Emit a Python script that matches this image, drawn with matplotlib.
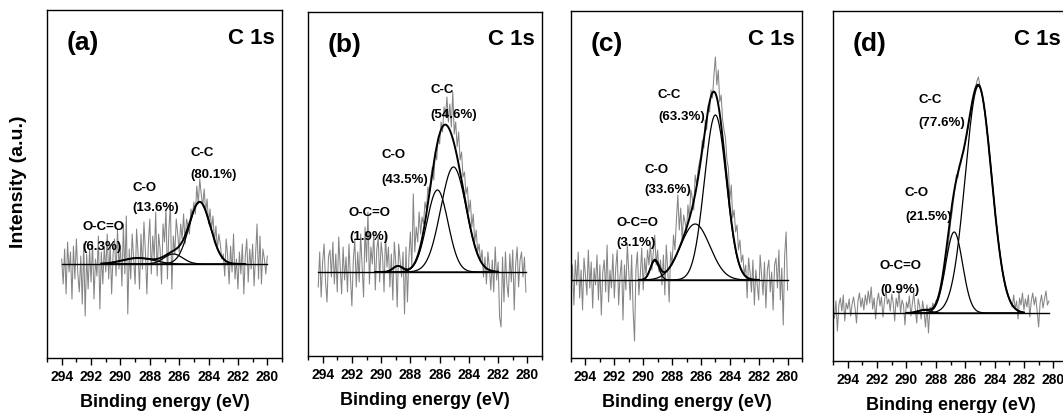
import numpy as np
import matplotlib
matplotlib.use("Agg")
import matplotlib.pyplot as plt
from matplotlib.ticker import MultipleLocator

plt.rcParams['font.family'] = ['Liberation Sans', 'DejaVu Sans']

# ---------------- data ----------------
panel_letters = ['(a)', '(b)', '(c)', '(d)']
species = ['C-C', 'C-O', 'O-C=O']

pct_a = [80.1, 13.6, 6.3]
pct_b = [54.6, 43.5, 1.9]
pct_c = [63.3, 33.6, 3.1]
pct_d = [77.6, 21.5, 0.9]

# fitted peak parameters: centre (eV), height (a.u.), FWHM (eV)  -> order C-C, C-O, O-C=O
centers_a = [284.6, 286.4, 288.8]
heights_a = [62, 10, 6]
fwhm_a = [1.7, 1.5, 2.5]

centers_b = [285.05, 286.15, 288.85]
heights_b = [105, 82, 6]
fwhm_b = [2.05, 1.7, 0.8]

centers_c = [285.0, 286.4, 289.2]
heights_c = [165, 56, 19]
fwhm_c = [1.78, 2.4, 0.7]

centers_d = [285.1, 286.75, 288.8]
heights_d = [227, 81, 3]
fwhm_d = [2.1, 1.35, 1.0]

# raw spectra (background subtracted), 0.1 eV step, high BE -> low BE
start_a, end_a = 294.0, 280.0
raw_a = [5, -20, 15, -30, 22, -8, 12, -35, 18, -15,
         25, -10, -28, 8, -40, 20, -52, 10, -25, 15,
         -18, 22, -35, 5, -12, 28, -45, 12, -20, 18,
         -8, 30, -15, 20, -30, 10, 25, -12, 35, -5,
         18, -22, 40, -10, 48, -50, 15, -15, 30, 5,
         -20, 35, 10, -25, 30, -5, 42, 12, -30, 20,
         45, -10, 28, 5, 52, -12, 30, 15, -20, 40,
         22, 55, -15, 35, 60, -25, 28, 10, 45, 30,
         12, 40, 25, 50, 20, 45, 38, 30, 55, 48,
         62, 50, 78, 60, 85, 70, 58, 75, 52, 65,
         40, 55, 35, 48, 22, 38, 15, 30, 20, 5,
         10, -12, 25, 8, -20, 18, -8, 30, -15, 5,
         -25, 12, -10, 20, -30, 8, 25, -18, 15, -5,
         20, -22, 10, 40, -15, 28, -20, 15, 5, -10,
         8]

start_b, end_b = 294.3, 280.1
raw_b = [-15, 20, -25, 10, 28, -10, -30, 15, 22, -5,
         30, -12, 18, -20, 35, 5, -22, 25, -8, 15,
         -20, 28, -5, -34, 12, 32, -15, 20, -10, 38,
         5, -25, 45, 10, 60, -12, 25, 8, 40, -18,
         22, 35, -10, 30, 15, -20, 38, 5, 25, -15,
         18, -28, 30, 10, -35, 28, 12, -5, 20, -42,
         25, -30, 15, 40, 5, 78, 20, 45, 30, 60,
         38, 55, 48, 70, 62, 85, 78, 95, 105, 92,
         120, 112, 135, 128, 150, 140, 165, 155, 175, 150,
         168, 145, 180, 138, 150, 125, 140, 112, 120, 95,
         100, 78, 85, 60, 72, 45, 58, 30, 42, 20,
         28, 10, 22, -5, 15, -12, 20, 5, -18, 12,
         -20, 25, -8, 10, -45, -55, 15, -30, 20, -12,
         -25, 18, -10, 22, -38, 8, 25, -15, 12, 20,
         -5, 15, -20]

start_c, end_c = 295.0, 280.0
raw_c = [-10, 15, -25, 20, -5, 28, -18, 10, -30, 22,
         5, -15, 30, -8, 18, -28, 12, -5, 25, -20,
         15, -35, 8, 20, -12, 35, -22, 10, -8, 26,
         -18, 12, 30, -25, 5, 20, -40, 15, -10, 36,
         8, -20, 25, -30, -61, 12, 28, -15, 5, 32,
         -10, 22, 5, 30, 15, 38, 10, 28, 45, 15,
         30, 8, 20, -5, 25, -15, 35, 10, -22, 28,
         15, 45, 30, 60, 85, 50, 72, 40, 65, 58,
         48, 75, 60, 90, 82, 70, 105, 95, 110, 118,
         125, 140, 132, 160, 150, 175, 168, 190, 182, 205,
         223, 195, 210, 178, 185, 160, 150, 142, 120, 112,
         80, 95, 62, 70, 48, 55, 30, 40, 18, 25,
         5, 15, -18, 22, 8, -12, 20, -25, 10, -5,
         -20, 25, 5, -15, 18, -28, 10, 20, -12, 8,
         -30, 15, 22, -8, 30, -20, 12, -45, 25, 48,
         -10]

start_d, end_d = 294.9, 280.3
raw_d = [-5, 12, -18, 8, 15, 2, 18, -8, 10, 4,
         14, -3, 9, 16, 5, -10, 12, 20, 6, 15,
         3, 18, 8, 22, 10, 26, 4, 15, -6, 12,
         20, 7, 16, -4, 11, 24, 9, 14, 2, 19,
         10, -8, 15, 6, 22, 0, 13, 8, -12, 11,
         5, 17, -3, 9, 20, 4, -10, 14, 7, -6,
         12, 2, -14, 8, -20, 6, 3, 10, 5, 12,
         14, 18, 22, 28, 35, 42, 55, 62, 75, 90,
         100, 112, 125, 138, 135, 148, 150, 158, 162, 170,
         178, 185, 195, 200, 212, 218, 225, 232, 236, 228,
         222, 215, 205, 195, 180, 170, 155, 140, 122, 106,
         92, 80, 68, 56, 45, 36, 28, 22, 18, 14,
         10, 6, 18, 4, 12, -6, 15, 8, 20, 3,
         14, 6, 18, -4, 12, 20, 8, 16, 2, -14,
         10, 18, 5, 14, 22, 8, 12]

# fit window (eV) per panel
fit_a = (291.3, 281.5)
fit_b = (290.4, 282.0)
fit_c = (290.3, 282.0)
fit_d = (290.0, 282.0)

panels = [
    dict(start=start_a, end=end_a, raw=raw_a, c=centers_a, h=heights_a, w=fwhm_a, pct=pct_a, fit=fit_a),
    dict(start=start_b, end=end_b, raw=raw_b, c=centers_b, h=heights_b, w=fwhm_b, pct=pct_b, fit=fit_b),
    dict(start=start_c, end=end_c, raw=raw_c, c=centers_c, h=heights_c, w=fwhm_c, pct=pct_c, fit=fit_c),
    dict(start=start_d, end=end_d, raw=raw_d, c=centers_d, h=heights_d, w=fwhm_d, pct=pct_d, fit=fit_d),
]

# ---------------- layout ----------------
W, H = 1063, 414
boxes_px = [(47, 282, 11, 359), (308, 542, 13, 357), (571, 802, 12, 359), (833, 1068, 12, 362)]
ylims = [(-94, 254), (-84, 260), (-78, 269), (-48, 302)]
label_pos = [
    [(285.23, 112, 90), (289.2, 77, 57), (292.56, 38, 18)],
    [(286.6, 183, 158), (290.0, 118, 93), (292.2, 60, 36)],
    [(288.98, 186, 164), (289.9, 111, 91), (291.83, 58, 38)],
    [(289.2, 214, 191), (290.1, 121, 97), (291.8, 48, 24)],
]


def gauss(x, c, h, w):
    return h * np.exp(-4.0 * np.log(2.0) * (x - c) ** 2 / w ** 2)


fig = plt.figure(figsize=(W / 100, H / 100), dpi=100)

for i, p in enumerate(panels):
    l, r, t, b = boxes_px[i]
    ax = fig.add_axes([l / W, (H - b) / H, (r - l) / W, (b - t) / H])
    n = len(p['raw'])
    x = p['start'] - 0.1 * np.arange(n)
    ax.plot(x, p['raw'], color='#858585', lw=0.75, zorder=1)
    ax.plot([x[0], x[-1]], [0, 0], color='black', lw=1.0, zorder=2)

    xf = np.linspace(p['fit'][0], p['fit'][1], 400)
    comps = [gauss(xf, c, h, w) for c, h, w in zip(p['c'], p['h'], p['w'])]
    for comp in comps:
        ax.plot(xf, comp, color='black', lw=0.9, zorder=3)
    ax.plot(xf, np.sum(comps, axis=0), color='black', lw=1.4, zorder=4)

    for (lx, y1, y2), sp, pc in zip(label_pos[i], species, p['pct']):
        ax.text(lx, y1, sp, ha='left', va='center', fontsize=9.5, fontweight='bold')
        ax.text(lx, y2, f'({pc}%)', ha='left', va='center', fontsize=9.5, fontweight='bold')

    ax.set_xlim(295, 279)
    ax.set_ylim(*ylims[i])
    ax.xaxis.set_major_locator(MultipleLocator(2))
    ax.xaxis.set_minor_locator(MultipleLocator(1))
    ax.set_yticks([])
    ax.tick_params(axis='x', which='major', direction='out', length=5, width=1,
                   labelsize=10, pad=3)
    ax.tick_params(axis='x', which='minor', direction='out', length=3, width=1)
    for lab in ax.get_xticklabels():
        lab.set_fontweight('bold')
    for s in ax.spines.values():
        s.set_linewidth(1.0)
    ax.set_xlabel('Binding energy (eV)', fontsize=13, fontweight='bold', labelpad=7)

    ax.text(0.085, 0.908, panel_letters[i], transform=ax.transAxes, ha='left', va='center',
            fontsize=19, fontweight='bold')
    ax.text(0.97, 0.922, 'C 1s', transform=ax.transAxes, ha='right', va='center',
            fontsize=16, fontweight='bold')

fig.text(19 / W, 1 - 182 / H, 'Intensity (a.u.)', rotation=90, ha='center', va='center',
         fontsize=14, fontweight='bold')

fig.savefig('out.png', dpi=100)
